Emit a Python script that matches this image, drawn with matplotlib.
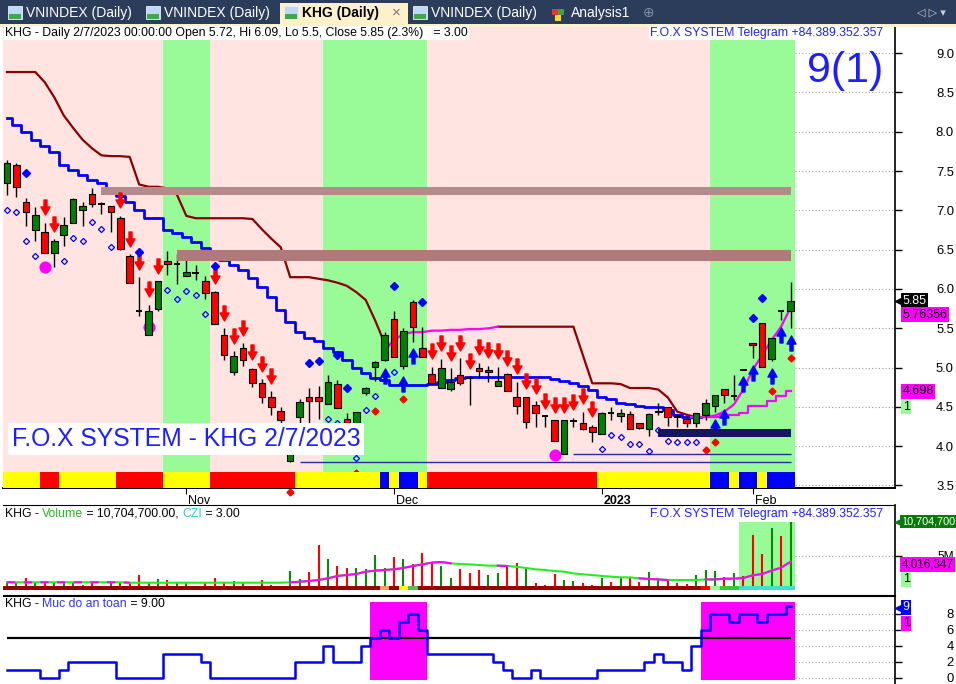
import numpy as np
import matplotlib.pyplot as plt
from matplotlib.path import Path
from matplotlib.patches import Rectangle
from matplotlib.transforms import offset_copy, ScaledTranslation

plt.rcParams['font.family'] = ['Liberation Sans', 'DejaVu Sans']

W, H = 956, 684

# ---------------- KHG daily prices, bar 0 .. bar 83 (= 2/7/2023) ----------------
opens = [7.35, 7.58, 7.11, 6.75, 6.73, 6.46, 6.69, 6.84, 7.00, 7.21,
         7.08, 7.06, 6.90, 6.42, 5.72, 5.41, 5.75, 6.36, 6.32, 6.17,
         6.20, 6.10, 5.96, 5.41, 4.95, 5.25, 4.98, 4.80, 4.62, 4.45,
         3.81, 4.37, 4.63, 4.62, 4.54, 4.79, 4.35, 4.10, 4.68, 5.01,
         5.10, 5.62, 5.02, 5.83, 5.25, 4.92, 4.74, 4.73, 4.91, 4.87,
         5.00, 4.95, 4.77, 4.92, 4.63, 4.63, 4.52, 4.38, 4.33, 3.90,
         4.32, 4.29, 4.24, 4.16, 4.42, 4.38, 4.41, 4.29, 4.22, 4.44,
         4.50, 4.37, 4.34, 4.30, 4.40, 4.51, 4.73, 4.64, 4.97, 5.31,
         5.57, 5.11, 5.72, 5.72]
highs = [7.64, 7.60, 7.16, 7.04, 6.84, 6.63, 6.92, 7.16, 7.11, 7.28,
         7.11, 7.06, 6.93, 6.44, 6.15, 5.80, 6.10, 6.48, 6.44, 6.40,
         6.30, 6.17, 5.97, 5.50, 5.21, 5.31, 5.00, 4.85, 4.70, 4.50,
         4.10, 4.60, 4.74, 4.77, 4.90, 4.84, 4.42, 4.43, 4.75, 5.08,
         5.45, 5.72, 5.50, 5.86, 5.52, 5.01, 5.11, 4.99, 5.12, 4.89,
         5.06, 5.02, 5.01, 4.93, 4.82, 4.63, 4.57, 4.38, 4.33, 4.33,
         4.36, 4.44, 4.27, 4.43, 4.50, 4.47, 4.45, 4.30, 4.42, 4.55,
         4.50, 4.41, 4.38, 4.42, 4.60, 4.65, 4.73, 4.91, 4.97, 5.31,
         5.57, 5.38, 5.72, 6.09]
lows = [7.20, 7.17, 6.80, 6.61, 6.46, 6.28, 6.55, 6.84, 6.80, 7.04,
        6.95, 6.73, 6.50, 6.08, 5.66, 5.41, 5.72, 6.18, 6.06, 6.17,
        6.11, 5.87, 5.55, 5.10, 4.90, 5.02, 4.75, 4.55, 4.40, 4.25,
        3.80, 4.30, 4.24, 4.35, 4.54, 4.49, 4.15, 4.04, 4.65, 4.83,
        5.08, 5.13, 4.98, 5.33, 5.13, 4.80, 4.74, 4.70, 4.78, 4.53,
        4.87, 4.82, 4.77, 4.70, 4.41, 4.23, 4.25, 4.25, 4.07, 3.90,
        4.24, 4.20, 4.05, 4.16, 4.33, 4.31, 4.22, 4.22, 4.13, 4.40,
        4.26, 4.24, 4.24, 4.24, 4.33, 4.43, 4.55, 4.59, 4.97, 5.12,
        5.01, 5.08, 5.60, 5.50]
closes = [7.60, 7.30, 6.98, 6.94, 6.46, 6.61, 6.81, 7.15, 7.06, 7.08,
          7.08, 6.98, 6.51, 6.08, 5.72, 5.72, 6.10, 6.32, 6.32, 6.22,
          6.20, 5.95, 5.55, 5.16, 5.15, 5.10, 4.80, 4.62, 4.50, 4.33,
          4.05, 4.56, 4.58, 4.58, 4.82, 4.49, 4.20, 4.43, 4.74, 5.07,
          5.41, 5.13, 5.47, 5.52, 5.13, 4.80, 5.00, 4.82, 4.80, 4.87,
          4.96, 4.97, 4.83, 4.70, 4.51, 4.31, 4.42, 4.38, 4.07, 4.33,
          4.32, 4.22, 4.18, 4.42, 4.42, 4.42, 4.22, 4.23, 4.41, 4.45,
          4.37, 4.37, 4.30, 4.42, 4.55, 4.65, 4.65, 4.64, 4.97, 5.29,
          5.01, 5.38, 5.72, 5.85]

# trailing lines on the price pane
stop_down = [8.76, 8.76, 8.76, 8.76, 8.63, 8.44, 8.21, 8.05, 7.90, 7.79,
             7.70, 7.69, 7.69, 7.68, 7.33, 7.30, 7.30, 7.28, 7.20, 6.93,
             6.90, 6.90, 6.90, 6.90, 6.90, 6.90, 6.89, 6.76, 6.64, 6.53,
             6.15, 6.15, 6.15, 6.13, 6.11, 6.08, 6.04, 5.96, 5.86, 5.60,
             5.31] + [None] * 11 + [5.52] * 9 + [
             5.16, 4.80, 4.80, 4.80, 4.79, 4.74, 4.74, 4.74, 4.72, 4.62,
             4.44, 4.40, 4.37] + [None] * 10
stop_up = [None] * 40 + [5.22, 5.35, 5.43, 5.45, 5.45, 5.47, 5.47, 5.48, 5.48,
                         5.49, 5.49, 5.50, 5.52] + [None] * 31
trail_blue = [8.18, 8.09, 8.00, 7.90, 7.82, 7.74, 7.58, 7.51, 7.45, 7.39,
              7.35, 7.23, 7.18, 7.11, 7.01, 6.90, 6.90, 6.75, 6.71, 6.66,
              6.60, 6.52, 6.45, 6.37, 6.31, 6.24, 6.14, 6.03, 5.90, 5.73,
              5.58, 5.45, 5.38, 5.34, 5.25, 5.20, 5.10, 4.99, 4.93, 4.87,
              4.84, 4.78, 4.78, 4.78, 4.78, 4.79, 4.82, 4.84, 4.87, 4.88,
              4.88, 4.88, 4.88, 4.88, 4.88, 4.88, 4.88, 4.88, 4.85, 4.83,
              4.80, 4.77, 4.72, 4.63, 4.60, 4.55, 4.54, 4.51, 4.50, 4.50,
              4.46, 4.40, 4.37, 4.37] + [None] * 10
trail_fast = [None] * 73 + [4.37, 4.37, 4.39, 4.44, 4.53, 4.72, 4.97, 5.16, 5.35, 5.52, 5.76]
trail_slow = [None] * 73 + [4.37, 4.37, 4.37, 4.40, 4.40, 4.42, 4.51, 4.51, 4.57, 4.64, 4.70]

# zones / support lines  (start bar, low, high)
resist_start = [10, 18]
resist_lo = [7.20, 6.35]
resist_hi = [7.30, 6.50]
resist_col = ['#B48A8A', '#B07A7A']
support_start = [31, 60]
support_lvl = [3.80, 3.90]
base_start, base_lo, base_hi = 69, 4.12, 4.22

# signals (bar indexes)
sell_arrows = [4, 5, 12, 13, 14, 15, 16, 22, 23, 24, 25, 26, 27, 28] + list(range(45, 63))
buy_arrows = [40, 42, 43, 75, 76, 78, 79, 81, 82, 83]
top_dots = [2, 14, 22, 32, 33, 35, 36, 41, 44, 79, 80]
low_rings = [0, 1, 2, 3, 6, 7, 8, 9, 10, 11, 17, 18, 19, 20, 21, 34, 35, 37, 38, 39, 41] + list(range(63, 74))
low_dots = [30, 37, 39, 42, 74, 75, 81, 83]
pink_bars = [4, 15, 58]
pink_lvl = [6.28, 5.52, 3.89]

# colour states per bar (run lengths)
bg_runs = [('P', 17), ('G', 5), ('P', 12), ('G', 11), ('P', 30), ('G', 9)]
strip_runs = [('Y', 4), ('R', 2), ('Y', 6), ('R', 5), ('Y', 5), ('R', 9), ('Y', 9), ('B', 1),
              ('Y', 1), ('B', 2), ('Y', 1), ('R', 18), ('Y', 12), ('B', 2), ('Y', 1), ('B', 2),
              ('Y', 1), ('B', 3)]

# volume pane (millions)
volume = [0.56, 0.56, 1.28, 0.44, 0.56, 0.44, 0.56, 0.56, 0.17, 0.44,
          0.08, 0.44, 0.72, 0.44, 1.83, 0.72, 1.17, 1.00, 0.44, 0.44,
          0.08, 0.44, 1.39, 0.44, 0.83, 0.56, 0.08, 1.00, 0.17, 0.08,
          2.50, 1.17, 2.39, 6.83, 4.50, 3.33, 2.94, 2.94, 2.78, 5.17,
          2.94, 4.78, 4.44, 3.61, 5.44, 3.94, 3.33, 1.28, 2.83, 2.22,
          2.67, 1.83, 2.10, 3.33, 3.90, 3.05, 0.56, 0.17, 2.00, 1.00,
          0.83, 0.56, 0.17, 1.40, 0.72, 1.40, 1.55, 0.72, 2.40, 1.00,
          0.83, 0.56, 0.28, 1.83, 2.67, 2.50, 1.44, 2.10, 1.67, 8.50,
          5.40, 9.60, 8.30, 10.7047]
vol_dir = ("ggrgrggggr" "rgrrrggrgg" "rrrrggrrrr" "ggrrgrrggg" "grgrrrggrr"
           "rggrrgrrrg" "grrgrgrrgg" "rrrgggrgrr" "rgrg")
vol_avg = [0.62] * 13 + [0.55] * 17 + [
           0.61, 0.72, 0.83, 1.00, 1.28, 1.67, 1.83, 2.00, 2.39, 2.56,
           2.67, 2.78, 3.00, 3.33, 3.60, 3.90, 4.00, 3.78, 3.67, 3.60,
           3.50, 3.39, 3.39, 3.33, 3.20, 3.00, 2.78, 2.67, 2.50, 2.39,
           2.10, 1.94, 1.83, 1.67, 1.56, 1.44, 1.44, 1.28, 1.17, 1.10,
           1.00, 1.00, 1.00, 1.00, 1.10, 1.10, 1.22, 1.22, 1.33, 1.78,
           2.00, 2.56, 3.05, 4.02]
vol_avg_pink = [(0, 13), (30, 47), (52, 53), (67, 70), (74, 83)]
vol_strip_runs = [('D', 40), ('O', 1), ('D', 1), ('Y', 1), ('L', 1), ('D', 30), ('R', 1),
                  ('P', 1), ('G', 2), ('T', 6)]
vol_zone_start = 78

# "Muc do an toan" pane
safety = [1, 1, 1, 1, 0, 0, 1, 2, 2, 2, 2, 2, 0, 0, 0, 0, 0, 3, 3, 3,
          3, 2, 0, 0, 0, 0, 0, 0, 0, 0, 0, 2, 2, 2, 4, 2, 2, 2, 4, 5,
          6, 5, 7, 8, 6, 3, 3, 3, 3, 3, 3, 3, 2, 1, 0, 0, 1, 0, 0, 0,
          0, 0, 0, 1, 1, 1, 1, 1, 2, 3, 2, 2, 1, 4, 6, 8, 8, 7, 8, 8,
          7, 8, 8, 9]
safety_level = 5

tick_bars = [19, 41, 63, 79]
tick_names = ['Nov', 'Dec', '2023', 'Feb']
price_ticks = [3.5, 4.0, 4.5, 5.0, 5.5, 6.0, 6.5, 7.0, 7.5, 8.0, 8.5, 9.0]

# ---------------- drawing ----------------
n = len(closes)
x = np.arange(n)
o, hi, lo, c = (np.array(v) for v in (opens, highs, lows, closes))


def expand(runs):
    return [k for k, m in runs for _ in range(m)]


def fx(px):
    return px / W


def fy(py):
    return 1 - py / H


def rect_px(x0, y0, x1, y1, **kw):
    fig.patches.append(Rectangle((fx(x0), fy(y1)), (x1 - x0) / W, (y1 - y0) / H,
                                 transform=fig.transFigure, **kw))


fig = plt.figure(figsize=(W / 100, H / 100), dpi=100, facecolor='white')
ax = fig.add_axes([fx(3), fy(488), fx(895) - fx(3), fy(27) - fy(488)])
axv = fig.add_axes([fx(3), fy(595), fx(895) - fx(3), fy(505) - fy(595)])
axi = fig.add_axes([fx(3), fy(684), fx(895) - fx(3), fy(596) - fy(684)])
XL = (-0.424, 94.07)

for a in (ax, axv, axi):
    a.set_xlim(*XL)
    a.set_facecolor('white')
    a.spines['left'].set_visible(False)
    a.spines['right'].set_linewidth(1.2)
    a.yaxis.tick_right()
    a.tick_params(axis='y', direction='out', length=5, width=1, labelsize=9.4, pad=37.4)

# --- price pane ---
ax.set_ylim(3.468, 9.333)
ax.spines['top'].set_visible(False)
ax.spines['bottom'].set_linewidth(1.4)

bg_col = {'P': '#FFE4E1', 'G': '#98FB98'}
ax.bar(x, 10, bottom=0, width=1.0, color=[bg_col[k] for k in expand(bg_runs)], zorder=0)
ax.hlines(price_ticks, n - 0.5, XL[1], colors='#A0A0A0', linestyles=(0, (1, 2)), lw=0.8, zorder=0.5)

ax.plot(x, np.array(stop_down, dtype=float), color='#8B0000', lw=1.6, zorder=2)
ax.plot(x, np.array(stop_up, dtype=float), color='#FF00FF', lw=1.6, zorder=2)
ax.plot(x, np.array(trail_blue, dtype=float), color='#0000FF', lw=2.0, drawstyle='steps-mid', zorder=2)
ax.plot(x, np.array(trail_fast, dtype=float), color='#FF00FF', lw=1.6, zorder=2)
ax.plot(x, np.array(trail_slow, dtype=float), color='#FF00FF', lw=1.6, drawstyle='steps-mid', zorder=2)

ax.plot(pink_bars, pink_lvl, 'o', ms=7.7, color='#FF00FF', zorder=2.5)

# candles
ax.vlines(x, lo, hi, color='black', lw=1.0, zorder=2.9)
body = np.abs(c - o)
solid = body > 0.005
ax.bar(x[solid], body[solid], bottom=np.minimum(o, c)[solid], width=0.7,
       color=np.where(c[solid] > o[solid], '#008000', '#FF0000'),
       edgecolor='black', linewidth=0.8, zorder=3)
ax.hlines(c[~solid], x[~solid] - 0.35, x[~solid] + 0.35, color='black', lw=1.4, zorder=3)

# signal markers
down_arrow = Path([(-0.2, 1), (0.2, 1), (0.2, 0.07), (0.6, 0.07), (0, -1), (-0.6, 0.07),
                   (-0.2, 0.07), (-0.2, 1)], closed=True)
up_arrow = Path([(px_, -py_) for px_, py_ in down_arrow.vertices], closed=True)


def shifted(pts):
    return offset_copy(ax.transData, fig=fig, x=0, y=pts, units='points')


ax.plot(sell_arrows, hi[sell_arrows], ls='none', marker=down_arrow, ms=10.8, color='#FF0000',
        transform=shifted(11.2), zorder=4)
ax.plot(buy_arrows, lo[buy_arrows], ls='none', marker=up_arrow, ms=10.8, color='#0000FF',
        transform=shifted(-10.4), zorder=4)
ax.plot(top_dots, hi[top_dots], ls='none', marker='D', ms=3.6, color='#0000FF',
        transform=shifted(18), zorder=4)
ax.plot(low_rings, lo[low_rings], ls='none', marker='D', ms=3.1, mfc='none', mec='#0000FF',
        mew=0.9, transform=shifted(-10.8), zorder=4)
ax.plot(low_dots, lo[low_dots], ls='none', marker='D', ms=3.5, color='#FF0000',
        transform=shifted(-21.6), zorder=4, clip_on=False)

# zones and support lines
for s, l, h_, col in zip(resist_start, resist_lo, resist_hi, resist_col):
    ax.fill_between([s, n - 1], l, h_, color=col, lw=0, zorder=3.5)
ax.fill_between([base_start, n - 1], base_lo, base_hi, color='#161660', lw=0, zorder=4.5)
for s, lv in zip(support_start, support_lvl):
    ax.hlines(lv, s, n - 1, color='#2B2B9B', lw=1.0, zorder=1.5)

strip_col = {'Y': '#FFFF00', 'R': '#FF0000', 'B': '#0000FF'}
ax.bar(x, 0.204, bottom=3.468, width=1.0, color=[strip_col[k] for k in expand(strip_runs)], zorder=5)

ax.set_yticks(price_ticks)
ax.set_yticklabels(['%.1f' % t for t in price_ticks])
ax.set_xticks(tick_bars)
ax.set_xticklabels(tick_names)
ax.tick_params(axis='x', direction='out', length=4, pad=1, labelsize=9)
for lbl in ax.get_xticklabels():
    lbl.set_ha('left')
    lbl.set_transform(lbl.get_transform() + ScaledTranslation(2 / 100, 0, fig.dpi_scale_trans))
    if lbl.get_text() == '2023':
        lbl.set_fontweight('bold')

# --- volume pane ---
axv.set_ylim(-1.5, 13.5)
vcol = {'g': '#0A8A0A', 'r': '#FF0000'}
axv.bar(x[vol_zone_start:], max(volume), bottom=0, width=1.0, color='#98FB98', zorder=1)
axv.vlines(x, 0, volume, colors=[vcol[k] for k in vol_dir], lw=1.5, zorder=3)
vstrip = {'D': '#990000', 'O': '#F4A460', 'Y': '#FFFF00', 'L': '#5CB85C', 'R': '#FF0000',
          'P': '#98FB98', 'G': '#33CC33', 'T': '#40E0D0'}
axv.bar(x, 0.67, bottom=-0.67, width=1.0, color=[vstrip[k] for k in expand(vol_strip_runs)], zorder=2)
va = np.array(vol_avg)
axv.plot(x, va, color='#22EE22', lw=1.5, zorder=4)
for s, e in vol_avg_pink:
    ls = (0, (4, 4)) if s == 0 else '-'
    axv.plot(x[s:e + 1], va[s:e + 1], color='#FF00FF', lw=1.5, ls=ls, zorder=4.5)
axv.set_xticks([])
axv.set_yticks([5])
axv.set_yticklabels(['5M'])
axv.tick_params(axis='y', labelsize=8.6)
axv.hlines([5], n - 0.5, XL[1], colors='#A0A0A0', linestyles=(0, (1, 2)), lw=0.8)

# --- safety pane ---
axi.set_ylim(-0.75, 10.25)
axi.spines['bottom'].set_visible(False)
sv = np.array(safety)
hot = x[sv >= safety_level]
axi.bar(hot, 9.75, bottom=-0.25, width=1.0, color='#FF00FF', zorder=1)
axi.hlines(safety_level, 0, n - 1, color='black', lw=1.6, zorder=2)
axi.plot(x, sv, color='#0000FF', lw=1.8, drawstyle='steps-mid', zorder=3)
axi.set_xticks([])
axi.set_yticks([0, 2, 4, 6, 8])
axi.hlines([0, 2, 4, 6, 8], n - 0.5, XL[1], colors='#A0A0A0', linestyles=(0, (1, 2)), lw=0.8)

for a in (ax, axv, axi):
    for lbl in a.get_yticklabels():
        lbl.set_ha('right')


# value tags on the right scale
def tag(a, yval, text, fc, tc, dy=0, arrow=False, size=9, x0=1.0085):
    tr = offset_copy(a.get_yaxis_transform(), fig=fig, x=0, y=-dy * 0.72, units='points')
    a.text(x0, yval, text, transform=tr, ha='left', va='center', fontsize=size, color=tc,
           bbox=dict(boxstyle='square,pad=0.12', fc=fc, ec='none'), clip_on=False, zorder=10)
    if arrow:
        a.plot([1.004], [yval], marker='<', ms=6, color=fc, transform=tr, clip_on=False, zorder=10)


tag(ax, closes[-1], '5.85', 'black', 'white', arrow=True)
tag(ax, trail_fast[-1], '5.76356', '#FF00FF', 'black', dy=7)
tag(ax, trail_slow[-1], '4.698', '#FF00FF', 'black')
tag(ax, trail_slow[-1], '1', '#98FB98', 'black', dy=15.5)
tag(axv, volume[-1], '10,704,700', '#0A7A0A', 'white', arrow=True, size=7.8, x0=1.0066)
tag(axv, vol_avg[-1], '4,016,347', '#FF00FF', 'black', dy=2.5, size=8.4, x0=1.0075)
tag(axv, vol_avg[-1], '1', '#98FB98', 'black', dy=17.5)
tag(axi, safety[-1], '9', '#0000FF', 'white', dy=1.5, arrow=True)
tag(axi, safety[-1], '1', '#FF00FF', 'black', dy=17.5)

# ---------------- titles / overlays ----------------
renderer = fig.canvas.get_renderer()


def multi_text(px, py, parts, size=8.8, bg=None):
    for s, col in parts:
        t = fig.text(fx(px), fy(py), s, color=col, fontsize=size, ha='left', va='center', zorder=20,
                     bbox=None if bg is None else dict(boxstyle='square,pad=0.1', fc=bg, ec='none'))
        px += t.get_window_extent(renderer).width


multi_text(5, 33, [('KHG - Daily 2/7/2023 00:00:00 Open 5.72, Hi 6.09, Lo 5.5, Close 5.85 (2.3%)   = 3.00',
                    'black')], bg='white')
multi_text(5, 514, [('KHG - ', 'black'), ('Volume', '#22BB22'), (' = 10,704,700.00, ', 'black'),
                    ('CZI', '#33CCCC'), (' = 3.00', 'black')])
multi_text(5, 604, [('KHG - ', 'black'), ('Muc do an toan', '#3333FF'), (' = 9.00', 'black')])

for py in (33, 514):
    fig.text(fx(883), fy(py), 'F.O.X SYSTEM Telegram +84.389.352.357', color='#2020FF', fontsize=8.8,
             ha='right', va='center', zorder=20,
             bbox=dict(boxstyle='square,pad=0.1', fc='white', ec='none'))

fig.text(fx(12), fy(439), 'F.O.X SYSTEM - KHG 2/7/2023', color='#1E1EFF', fontsize=17.8,
         ha='left', va='center', zorder=20,
         bbox=dict(boxstyle='square,pad=0.15', fc='white', ec='none'))
fig.text(fx(807), fy(71), '9(1)', color='#1E1EFF', fontsize=31, ha='left', va='center', zorder=20)

# tab strip
rect_px(0, 0, W, 24, fc='#2C3D5B', ec='none')
rect_px(0, 24, W, 27, fc='#FDF1CB', ec='none')
rect_px(280, 3, 408, 25, fc='#FDF1CB', ec='none')
tabs = [(8, 'VNINDEX (Daily)'), (146, 'VNINDEX (Daily)'), (284, 'KHG (Daily)'), (413, 'VNINDEX (Daily)')]
for tx, name in tabs:
    rect_px(tx, 6, tx + 14, 19, fc='#BFD9F2', ec='#E8EEF5', lw=0.6)
    rect_px(tx + 1, 14, tx + 13, 19, fc='#3DAA48', ec='none')
    sel = name.startswith('KHG')
    fig.text(fx(tx + 18), fy(13), name, fontsize=10, ha='left', va='center',
             color='black' if sel else 'white', fontweight='bold' if sel else 'normal')
fig.text(fx(396), fy(13), '\u00d7', fontsize=11, ha='center', va='center', color='#777777')
for dx, dy_, col in [(0, 4, '#E53935'), (6, 4, '#43A047'), (3, 10, '#FDD835')]:
    rect_px(552 + dx, 5 + dy_, 558 + dx, 11 + dy_, fc=col, ec='none')
fig.text(fx(571), fy(13), 'Analysis1', fontsize=10, ha='left', va='center', color='white')
fig.text(fx(649), fy(13), '\u2295', fontsize=10, ha='center', va='center', color='#8090A8')
fig.text(fx(931), fy(13), '\u25c1 \u25b7 \u25be', fontsize=8, ha='center', va='center', color='#C8D0DC')

fig.savefig('out.png', dpi=100, facecolor='white')
